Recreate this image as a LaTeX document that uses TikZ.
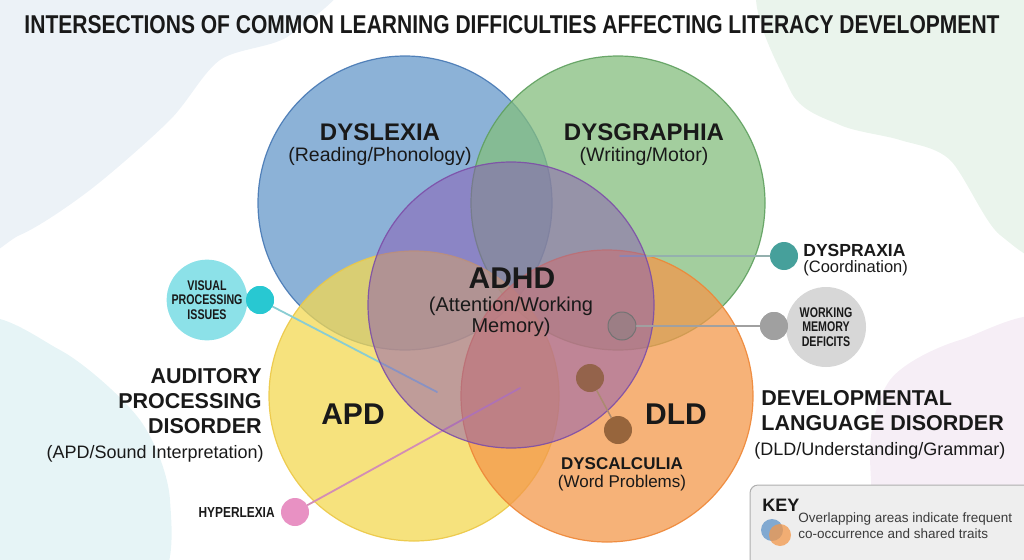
\documentclass[tikz,border=0pt]{standalone}
\usepackage{fontspec}
\usepackage{graphicx}
\setmainfont{Liberation Sans}
\newfontfamily\narrowfont[FakeStretch=0.82]{Liberation Sans}
\newfontfamily\tagfont[FakeStretch=0.76]{Liberation Sans}

\definecolor{ink}{RGB}{25,25,25}
\definecolor{dysblue}{RGB}{102,152,202}
\definecolor{dysblueline}{RGB}{70,120,180}
\definecolor{dysgreen}{RGB}{132,190,126}
\definecolor{dysgreenline}{RGB}{95,160,95}
\definecolor{apdyellow}{RGB}{243,216,82}
\definecolor{apdyellowline}{RGB}{236,200,70}
\definecolor{dldorange}{RGB}{243,152,75}
\definecolor{dldorangeline}{RGB}{238,135,55}
\definecolor{adhdpurple}{RGB}{138,88,180}
\definecolor{adhdpurpleline}{RGB}{125,78,168}
\definecolor{visualcyan}{RGB}{140,225,232}
\definecolor{visualdot}{RGB}{40,200,210}
\definecolor{praxteal}{RGB}{70,160,155}
\definecolor{wmgray}{RGB}{215,215,215}
\definecolor{wmdotgray}{RGB}{160,160,160}
\definecolor{calcbrown}{RGB}{135,88,50}
\definecolor{hyppink}{RGB}{232,145,195}
\definecolor{keygray}{RGB}{238,238,238}
\definecolor{keyedge}{RGB}{175,175,175}
\definecolor{blobblue}{RGB}{236,242,247}
\definecolor{blobgreen}{RGB}{234,244,236}
\definecolor{blobpink}{RGB}{246,238,246}
\definecolor{blobcyan}{RGB}{230,244,246}

\tikzset{every picture/.style={line width=0.75pt}}
\tikzset{
	venn/.style={line width=1.2pt, fill opacity=0.75, draw opacity=0.9},
	dot/.style={circle, inner sep=0pt, minimum size=28pt},
	tag/.style={circle, inner sep=0pt, minimum size=78pt, align=center, text=ink,
		font={\tagfont\bfseries\fontsize{14}{14.5}\selectfont}},
	link/.style={line width=1.8pt, line cap=round},
	head/.style={inner sep=0pt, text=ink, font={\bfseries\fontsize{24}{28}\selectfont}},
	big/.style={inner sep=0pt, text=ink, font={\bfseries\fontsize{30}{34}\selectfont}},
	side/.style={inner sep=0pt, text=ink, font={\bfseries\fontsize{21.5}{25}\selectfont}},
	sub/.style={inner sep=0pt, text=ink, font={\fontsize{19.5}{22}\selectfont}},
	small/.style={inner sep=0pt, text=ink, font={\fontsize{18}{21}\selectfont}},
}

\begin{document}
\begin{tikzpicture}[x=1pt,y=1pt,yscale=-1,xscale=1]
	\useasboundingbox (0,0) rectangle (1024,559);
	%Background blobs
	\fill[blobblue] plot[smooth cycle] coordinates {(-30,-30) (330,-30) (290,35) (220,60) (170,120) (90,190) (20,235) (-30,240)};
	\fill[blobgreen] plot[smooth cycle] coordinates {(770,-30) (1060,-30) (1060,245) (1000,235) (950,160) (900,140) (840,125) (790,90)};
	\fill[blobpink] plot[smooth cycle] coordinates {(1060,330) (960,340) (890,380) (870,460) (900,590) (1060,590)};
	\fill[blobcyan] plot[smooth cycle] coordinates {(-30,330) (60,350) (140,420) (170,500) (150,590) (-30,590)};

	%Shape: Circle [dyslexia]
	\draw[venn, fill=dysblue, draw=dysblueline] (405,203) circle (147);
	%Shape: Circle [dysgraphia]
	\draw[venn, fill=dysgreen, draw=dysgreenline] (618,203) circle (147);
	%Shape: Circle [apd]
	\draw[venn, fill=apdyellow, draw=apdyellowline] (414,396) circle (145);
	%Shape: Circle [dld]
	\draw[venn, fill=dldorange, draw=dldorangeline] (607,396) circle (146);

	%Connector ends inside the overlaps
	\coordinate (vend) at (437,392);
	\coordinate (praxend) at (620,256);
	\coordinate (hypend) at (520,388);

	% Dots
	\node[dot, fill=visualdot] (vdot) at (260,300) {};
	\node[dot, fill=praxteal] (praxdot) at (784,256) {};
	\node[dot, fill=wmdotgray] (wmdot) at (774,326) {};
	\node[dot, fill=hyppink] (hypdot) at (295,512) {};

	%Straight Lines
	\draw[link, color=visualcyan!80!gray] (vdot) -- (vend);
	\draw[link, color=praxteal!45!gray!70] (praxdot) -- (praxend);
	\draw[link, color=hyppink!80!gray] (hypdot) -- (hypend);

	%Shape: Circle [adhd]
	\draw[venn, fill=adhdpurple, draw=adhdpurpleline, fill opacity=0.5] (511,305) circle (143);

	%Working memory ring and dyscalculia dots
	\node[dot, fill=gray, fill opacity=0.45, draw=gray!90!black, line width=1pt] (wmring) at (622,326) {};
	\draw[link, color=wmdotgray] (wmdot) -- (wmring);
	\node[dot, fill=calcbrown, fill opacity=0.75] (calcA) at (590,378) {};
	\node[dot, fill=calcbrown, fill opacity=0.85] (calcB) at (618,430) {};
	\draw[link, color=calcbrown!70!white, line width=1.5pt] (calcA) -- (calcB);

	% Label circles
	\node[tag, fill=visualcyan] (visual) at (207,300) {VISUAL\\PROCESSING\\ISSUES};
	\node[dot, fill=visualdot] at (vdot) {};
	\node[tag, fill=wmgray, minimum size=80pt] (wm) at (826,327) {WORKING\\MEMORY\\DEFICITS};
	\node[dot, fill=wmdotgray] at (wmdot) {};

	% Text Node
	\node[anchor=base, inner sep=0pt, text=ink] (title) at (512,34) {\resizebox{975pt}{18pt}{\bfseries INTERSECTIONS OF COMMON LEARNING DIFFICULTIES AFFECTING LITERACY DEVELOPMENT}};
	% Text Node
	\node[head, anchor=base] (dyslexia) at (380,140) {DYSLEXIA};
	\node[sub, anchor=base] (dyslexiasub) at (380,161) {(Reading/Phonology)};
	% Text Node
	\node[head, anchor=base] (dysgraphia) at (644,140) {DYSGRAPHIA};
	\node[sub, anchor=base] (dysgraphiasub) at (644,161) {(Writing/Motor)};
	% Text Node
	\node[big, anchor=base] (adhd) at (512,288) {ADHD};
	\node[inner sep=0pt, text=ink, anchor=north, align=center, font={\fontsize{20}{21}\selectfont}] (adhdsub) at (511,296.5) {(Attention/Working\\Memory)};
	% Text Node
	\node[big, anchor=base] (apd) at (353,424) {APD};
	\node[big, anchor=base] (dld) at (676,424) {DLD};
	% Text Node
	\node[side, anchor=north east, align=right] (apdlong) at (262,368) {AUDITORY\\PROCESSING\\DISORDER};
	\node[small, anchor=base east] (apdsub) at (264,458) {(APD/Sound Interpretation)};
	% Text Node
	\node[side, anchor=north west, align=left] (dldlong) at (761,390) {DEVELOPMENTAL\\LANGUAGE DISORDER};
	\node[small, anchor=base west] (dldsub) at (754,455) {(DLD/Understanding/Grammar)};
	% Text Node
	\node[inner sep=0pt, text=ink, anchor=base west, font={\bfseries\fontsize{17.5}{20}\selectfont}] (prax) at (803,256) {DYSPRAXIA};
	\node[inner sep=0pt, text=ink, anchor=base west, font={\fontsize{16.5}{20}\selectfont}] (praxsub) at (803,272) {(Coordination)};
	% Text Node
	\node[inner sep=0pt, text=ink, anchor=base, font={\bfseries\fontsize{17}{20}\selectfont}] (calc) at (622,469) {DYSCALCULIA};
	\node[inner sep=0pt, text=ink, anchor=base, font={\fontsize{17}{20}\selectfont}] (calcsub) at (622,487) {(Word Problems)};
	% Text Node
	\node[inner sep=0pt, text=ink, anchor=base east, font={\narrowfont\bfseries\fontsize{14.5}{16}\selectfont}] (hyp) at (275,517) {HYPERLEXIA};

	%Key box
	\draw[rounded corners=8pt, fill=keygray, draw=keyedge, line width=1pt] (750,485) rectangle (1045,580);
	\node[inner sep=0pt, text=ink, anchor=base west, font={\bfseries\fontsize{18}{20}\selectfont}] (key) at (762,511) {KEY};
	\fill[dysblue, fill opacity=0.8] (772,530) circle (11);
	\fill[dldorange, fill opacity=0.75] (780,535) circle (11);
	\node[inner sep=0pt, text=ink!85, anchor=north west, align=left, font={\fontsize{13.5}{16}\selectfont}] (keytext) at (798,512) {Overlapping areas indicate frequent\\co-occurrence and shared traits};
\end{tikzpicture}
\end{document}
